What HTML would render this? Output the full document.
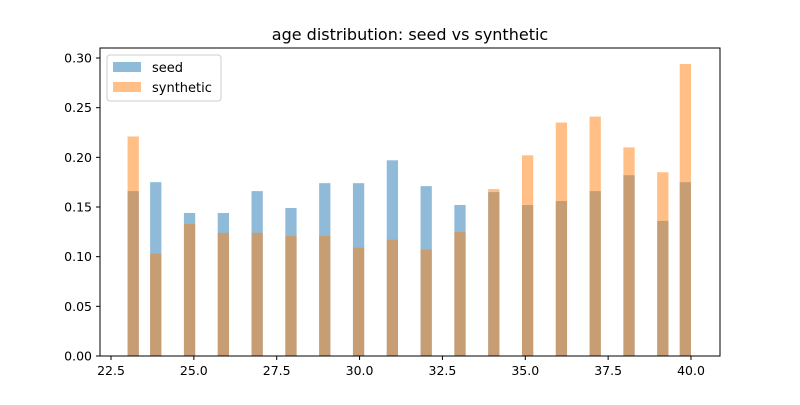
<!DOCTYPE html>
<html><head><meta charset="utf-8"><style>
body{margin:0;background:#fff;}
svg text{font-family:"DejaVu Sans","Liberation Sans",sans-serif;}
</style></head><body>
<svg id="chart" width="800" height="400" xmlns="http://www.w3.org/2000/svg">
<rect width="800" height="400" fill="#fff"/>
<text x="410" y="40" font-size="16" text-anchor="middle">age distribution: seed vs synthetic</text>
<g id="bars"></g>
<rect x="100" y="48" width="620" height="308" fill="none" stroke="#000" stroke-width="1"/>
<g id="axes"></g>
<g>
<rect x="107" y="55" width="114" height="46" rx="3" fill="#fff" fill-opacity="0.8" stroke="#ccc"/>
<rect x="113" y="62" width="28" height="10" fill="#1f77b4" fill-opacity="0.5"/>
<text x="152" y="72" font-size="13">seed</text>
<rect x="113" y="82" width="28" height="10" fill="#ff7f0e" fill-opacity="0.5"/>
<text x="152" y="92" font-size="13">synthetic</text>
</g>
</svg>
<script>
const ages=[23,24,25,26,27,28,29,30,31,32,33,34,35,36,37,38,39,40];
const seedValues=[0.166,0.175,0.144,0.144,0.166,0.149,0.174,0.174,0.197,0.171,0.152,0.165,0.152,0.156,0.166,0.182,0.136,0.175];
const syntheticValues=[0.221,0.103,0.133,0.124,0.124,0.121,0.121,0.109,0.117,0.107,0.125,0.168,0.202,0.235,0.241,0.210,0.185,0.294];
const xTicks=[22.5,25.0,27.5,30.0,32.5,35.0,37.5,40.0];
const yTicks=[0.00,0.05,0.10,0.15,0.20,0.25,0.30];
const NS="http://www.w3.org/2000/svg";
const xs=v=>111+(v-22.5)*(580/17.5);
const ys=v=>356-v*(298/0.30);
const binW=17/50;
function binLeft(a){let k=Math.min(49,Math.floor((a-23)/binW+1e-9));return 23+k*binW;}
const bars=document.getElementById('bars');
function draw(vals,color,name){
 ages.forEach((a,i)=>{
  const r=document.createElementNS(NS,'rect');
  const l=binLeft(a);
  r.setAttribute('x',xs(l));r.setAttribute('width',xs(l+binW)-xs(l));
  r.setAttribute('y',ys(vals[i]));r.setAttribute('height',356-ys(vals[i]));
  r.setAttribute('fill',color);r.setAttribute('fill-opacity','0.5');
  
  
  bars.appendChild(r);
 });
}
draw(seedValues,'#1f77b4','seed');
draw(syntheticValues,'#ff7f0e','synthetic');
const axes=document.getElementById('axes');
xTicks.forEach(t=>{
 const x=xs(t);
 const l=document.createElementNS(NS,'line');
 l.setAttribute('x1',x);l.setAttribute('x2',x);l.setAttribute('y1',356);l.setAttribute('y2',360);l.setAttribute('stroke','#000');
 
 
 axes.appendChild(l);
 const tx=document.createElementNS(NS,'text');
 tx.setAttribute('x',x);tx.setAttribute('y',375);tx.setAttribute('font-size','12.5');tx.setAttribute('text-anchor','middle');
 tx.textContent=t.toFixed(1);
 
 
 axes.appendChild(tx);
});
yTicks.forEach(t=>{
 const y=ys(t);
 const l=document.createElementNS(NS,'line');
 l.setAttribute('x1',96);l.setAttribute('x2',100);l.setAttribute('y1',y);l.setAttribute('y2',y);l.setAttribute('stroke','#000');
 
 
 axes.appendChild(l);
 const tx=document.createElementNS(NS,'text');
 tx.setAttribute('x',92);tx.setAttribute('y',y+4.5);tx.setAttribute('font-size','12.5');tx.setAttribute('text-anchor','end');
 tx.textContent=t.toFixed(2);
 
 
 axes.appendChild(tx);
});
</script>
</body></html>
